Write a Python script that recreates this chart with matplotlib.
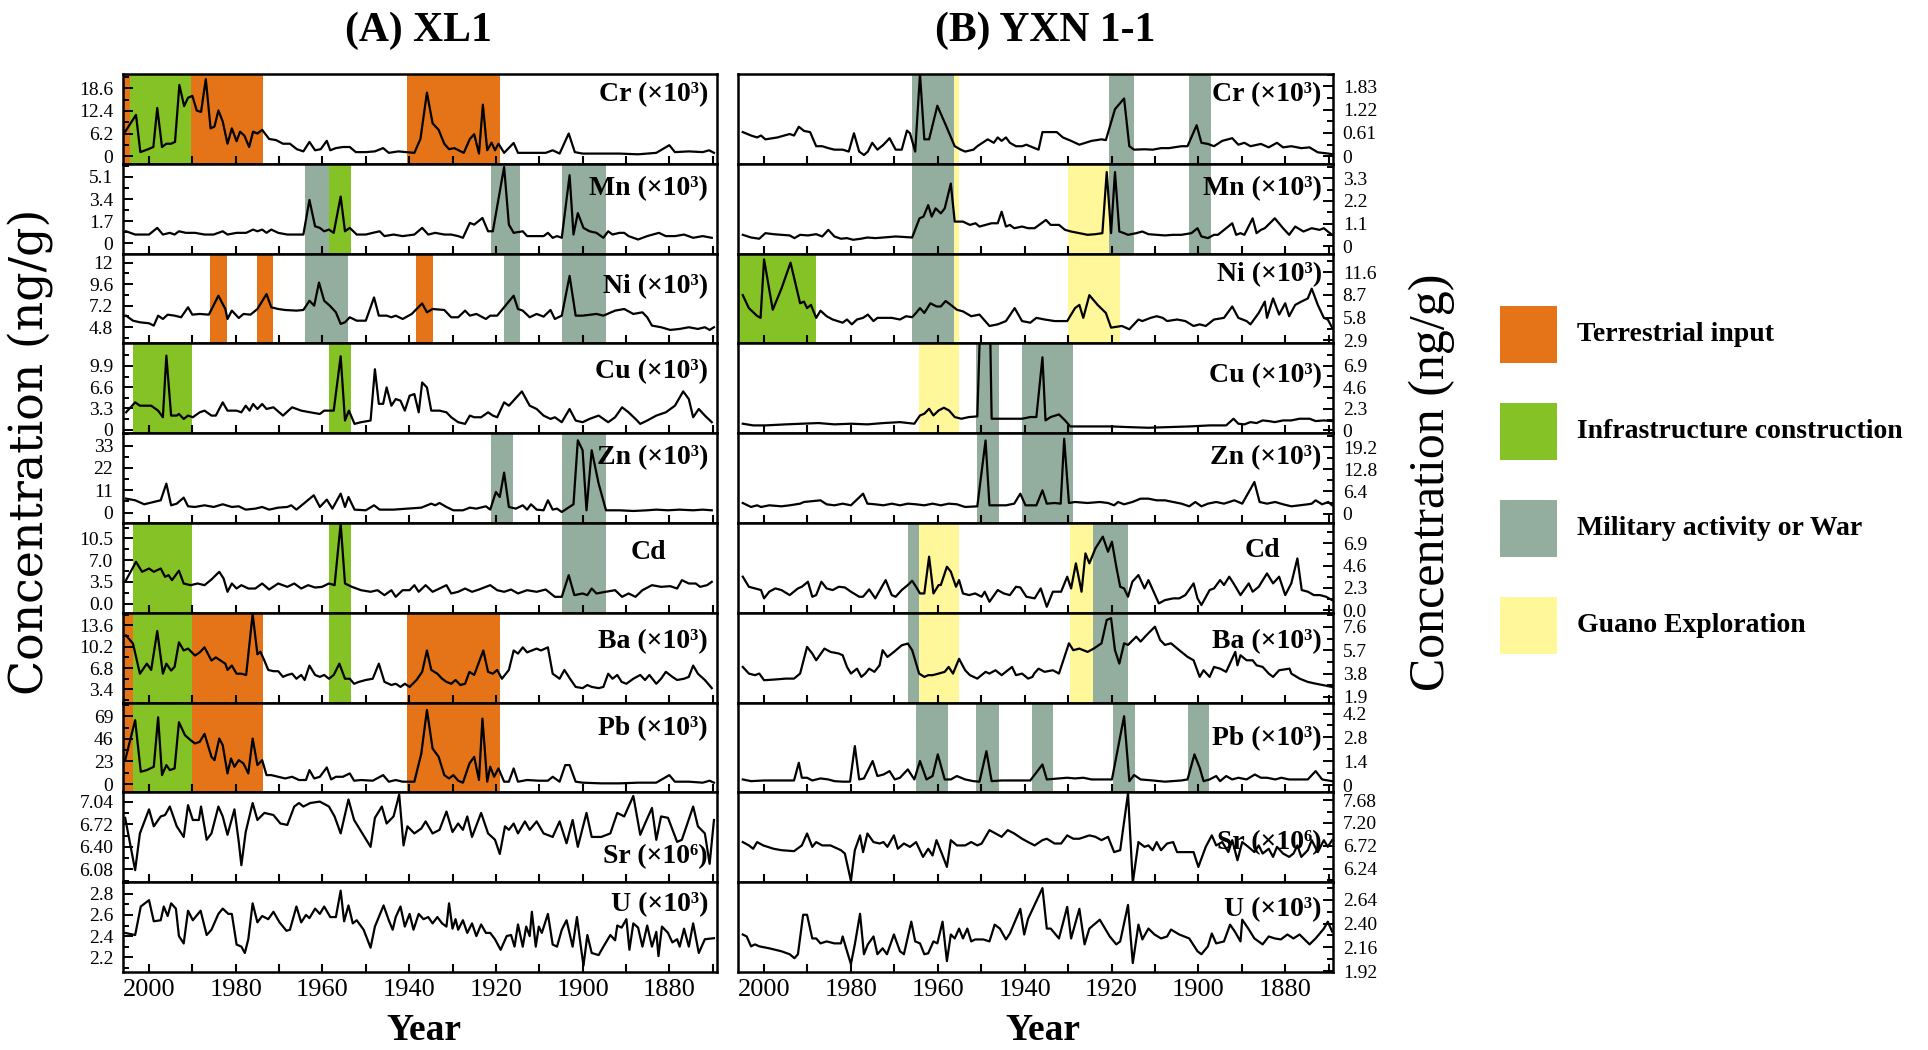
import numpy as np
import matplotlib
matplotlib.use("Agg")
import matplotlib.pyplot as plt
from matplotlib.patches import Rectangle
from matplotlib.ticker import FixedLocator

plt.rcParams['font.family'] = ['Liberation Serif', 'DejaVu Serif']

# shading colours
C_TER = '#e57418'   # terrestrial input
C_INF = '#84c225'   # infrastructure construction
C_MIL = '#93ad9e'   # military activity or war
C_GUA = '#fff799'   # guano exploration

# ---------------- (A) XL1 : (year, value) ----------------
xl1_cr = [(2005.5,6.7),(2003,11.3),(2002,1.1),(2000.2,1.9),(1999,2.5),(1998.1,13.2),(1997,2.5),(1996,3.4),(1994.9,3.4),(1994,3.9),
          (1993,19.5),(1991.9,13.7),(1991,16.0),(1990,16.5),(1989,12.5),(1988,12.1),(1986.9,21.1),(1985.8,7.6),(1984.9,8.1),(1984,12.5),
          (1983,9.5),(1981.9,3.4),(1980.9,7.6),(1979.8,4.1),(1979,6.7),(1978,5.6),(1976.9,2.5),(1976,6.7),(1975,6.2),(1973.9,7.2),
          (1972.3,4.7),(1970.7,4.4),(1969.1,3.4),(1967.5,3.4),(1965.9,1.9),(1964.4,1.3),(1963,3.9),(1961.7,1.6),(1960.4,1.9),(1959,4.2),
          (1958.2,1.6),(1956.9,2.2),(1955.3,2.5),(1953.7,2.5),(1952.3,1.1),(1950,1.1),(1947.9,1.3),(1946,2.2),(1944.7,0.9),(1942.5,1.3),
          (1938.8,0.9),(1937.4,4.7),(1935.9,17.4),(1934.6,9.0),(1933.2,7.2),(1931.9,3.4),(1930.8,1.9),(1929.6,2.2),(1927.4,0.9),(1926,4.7),
          (1925,6.0),(1923.9,0.7),(1923,14.1),(1922,1.6),(1921,3.7),(1920.2,1.6),(1919.4,3.4),(1918.1,0.9),(1915.9,3.6),(1914.9,0.9),
          (1911.7,0.9),(1908.5,0.9),(1906.9,1.6),(1905.3,0.7),(1903.2,6.2),(1901.8,1.1),(1900,0.7),(1895.7,0.7),(1891.5,0.7),(1887.2,0.5),
          (1883,0.9),(1880,3.0),(1878.7,1.1),(1875.5,1.3),(1872.3,1.1),(1870.8,1.6),(1869.7,0.9)]
xl1_mn = [(2005.3,0.93),(2003.2,0.68),(2000,0.68),(1998.1,1.19),(1996.8,0.68),(1995.2,0.81),(1994.1,0.68),(1993.1,0.93),(1991.5,0.81),(1989.4,0.81),
          (1987.2,0.68),(1985.1,0.68),(1983,0.93),(1981.9,0.68),(1979.8,0.81),(1977.6,0.81),(1976,1.06),(1975,0.93),(1973.9,1.06),(1972.9,0.81),
          (1971.8,1.06),(1970.2,0.81),(1968.1,0.68),(1964.4,0.68),(1963,3.33),(1961.7,1.31),(1960.6,1.19),(1959.6,0.93),(1958.5,1.06),(1957.4,0.81),
          (1955.8,3.59),(1954.8,0.93),(1953.7,1.19),(1952.1,0.68),(1950,0.68),(1948.4,0.81),(1946.8,0.93),(1945.7,0.56),(1943.6,0.68),(1941.5,0.56),
          (1938.8,0.68),(1937,1.19),(1935.6,0.68),(1934,0.81),(1931.9,0.68),(1930.3,0.68),(1928.7,0.56),(1927.6,0.43),(1926,1.57),(1925,1.44),
          (1923.1,1.95),(1921.8,0.93),(1920.7,0.93),(1918.1,5.86),(1917,1.44),(1915.9,0.81),(1913.8,0.93),(1912.8,0.56),(1910.6,0.56),(1909,0.56),
          (1908,0.81),(1906.9,0.43),(1905.9,0.56),(1904.8,0.43),(1903,5.23),(1902.1,0.68),(1901.1,2.32),(1899.8,1.19),(1898.4,0.93),(1896.8,0.81),
          (1895.2,0.43),(1894.1,0.93),(1893.1,0.68),(1891.5,0.81),(1890.4,0.81),(1889.4,0.56),(1887.2,0.30),(1885.1,0.56),(1882.4,0.81),(1880.8,0.56),
          (1878.7,0.56),(1876.6,0.68),(1874.5,0.43),(1872.3,0.56),(1870.2,0.43)]
xl1_ni = [(2005.3,6.09),(2003.7,5.53),(2002.1,5.35),(2000,5.24),(1998.9,4.98),(1997.9,6.09),(1996.8,5.72),(1995.7,6.20),(1994.1,6.09),(1992.6,5.91),
          (1991,7.02),(1990,6.20),(1988.3,6.28),(1986.2,6.20),(1984,8.31),(1982.4,6.83),(1981.9,5.72),(1980.9,6.65),(1979.3,5.83),(1978.2,6.28),
          (1976.6,6.20),(1975,6.83),(1972.9,8.49),(1971.8,7.02),(1970.2,6.83),(1968.6,6.72),(1966,6.65),(1964.4,6.72),(1963,7.75),(1961.9,7.20),
          (1960.8,9.78),(1959.6,7.75),(1958.3,7.20),(1956.9,6.46),(1955.8,5.17),(1954.8,5.35),(1953.7,5.91),(1952.1,5.53),(1950,5.53),(1948.1,8.12),
          (1947,6.09),(1945.2,6.09),(1944.1,5.91),(1943.1,6.09),(1941.5,5.72),(1939.4,6.28),(1937,7.46),(1935.9,6.46),(1934.6,6.83),(1931.9,6.72),
          (1930.3,5.91),(1928.7,5.91),(1927.1,6.65),(1926,6.09),(1924.5,6.28),(1922.3,5.72),(1921.3,6.09),(1919.7,6.09),(1915.9,8.31),(1914.9,6.83),
          (1913.8,6.65),(1912.2,5.91),(1910.6,6.28),(1909,5.98),(1907.4,6.72),(1906.4,5.72),(1904.8,6.09),(1903,10.52),(1901.6,6.09),(1900,6.09),
          (1896.8,6.28),(1895.2,6.09),(1892.5,6.65),(1890.4,6.83),(1888.3,6.28),(1886.2,6.46),(1885.1,5.91),(1884,4.98),(1881.9,4.80),(1879.8,4.50),
          (1877.6,4.61),(1875.5,4.80),(1873.4,4.61),(1871.8,4.80),(1870.7,4.50),(1869.7,4.80)]
xl1_cu = [(2005.3,2.68),(2003.2,4.23),(2002.1,3.71),(2000.5,3.71),(1999.5,3.71),(1997.9,2.94),(1996.8,1.91),(1996,11.5),(1994.9,2.17),(1993.6,2.17),
          (1993.1,2.42),(1992,1.65),(1991,2.17),(1989.9,1.91),(1988.3,2.68),(1987.2,2.94),(1985.6,2.17),(1984.6,2.17),(1983,4.23),(1981.9,2.94),
          (1979.8,2.94),(1978.7,2.68),(1977.7,3.71),(1976.8,2.94),(1976,3.97),(1975,3.20),(1973.9,3.97),(1972.9,3.20),(1971.3,3.46),(1969.1,2.17),
          (1967,3.46),(1964.9,2.94),(1962.8,2.68),(1960.6,2.42),(1959.6,2.94),(1957.4,2.94),(1955.8,11.4),(1954.8,1.40),(1953.9,2.94),(1952.6,0.88),
          (1951.1,1.14),(1948.9,1.40),(1947.9,9.38),(1947,4.0),(1946,4.0),(1945.2,6.55),(1944.1,3.71),(1943.1,4.74),(1942,4.49),(1941,2.94),
          (1939.9,5.26),(1938.8,5.52),(1937.8,2.68),(1937,7.32),(1935.9,6.55),(1934.9,2.94),(1933,2.94),(1931.4,2.68),(1930.3,1.91),(1928.7,1.14),
          (1927.1,0.88),(1926,2.17),(1925,1.91),(1923.4,1.91),(1921.8,2.68),(1920.7,2.17),(1919.7,1.91),(1918.1,4.23),(1917,3.71),(1914,5.93),
          (1912.2,3.71),(1910.6,3.20),(1909,2.17),(1907.4,1.65),(1906.4,1.91),(1904.8,1.14),(1903,3.20),(1901.6,1.40),(1900,1.14),(1898.4,1.65),
          (1896.3,2.17),(1894.1,1.14),(1892.5,1.91),(1890.9,3.46),(1889.4,2.68),(1887.8,1.65),(1886.7,0.88),(1885.1,1.40),(1883,2.17),(1880.8,2.68),
          (1878.7,3.71),(1876.8,5.93),(1875.5,4.74),(1874.5,1.91),(1873.2,3.20),(1871.8,2.17),(1870.2,1.14)]
xl1_zn = [(2005.3,6.90),(2003.2,6.08),(2001.1,4.11),(1998.9,5.26),(1997.3,6.08),(1996,14.29),(1994.9,3.61),(1993.6,4.43),(1992,7.39),(1991,3.12),
          (1989.4,2.79),(1987.2,3.61),(1985.1,2.79),(1983,4.11),(1980.9,2.79),(1979.3,3.12),(1977.7,1.48),(1975.5,1.97),(1973.9,2.79),(1972.3,1.48),
          (1970.2,2.46),(1968.1,2.79),(1967.2,3.61),(1966,1.48),(1962,8.54),(1960.6,2.79),(1959,6.40),(1957.7,1.97),(1955.8,9.36),(1954.8,2.79),
          (1954,7.72),(1952.6,1.48),(1950,1.15),(1948.1,3.61),(1946.8,1.48),(1943.6,1.48),(1940.4,1.97),(1937.2,2.46),(1934.9,4.43),(1934,3.61),
          (1933,4.76),(1931.4,2.79),(1929.8,1.15),(1927.6,1.15),(1926,2.46),(1924.5,1.97),(1922.3,3.12),(1921.3,1.48),(1920,10.18),(1919.1,7.72),
          (1918.1,19.7),(1917,2.79),(1915.4,1.97),(1913.8,3.61),(1912.8,1.48),(1911.9,4.11),(1910.6,1.48),(1909,1.15),(1908,6.08),(1906.9,1.48),
          (1905.9,1.97),(1904.8,0.33),(1902.1,4.11),(1901.1,35.6),(1900,30.7),(1899.1,1.15),(1897.9,30.7),(1896.3,14.3),(1894.6,1.15),(1891.5,1.15),
          (1888.3,0.82),(1885.1,1.15),(1883,1.48),(1880.3,1.15),(1877.7,1.48),(1874.5,1.15),(1872.3,1.48),(1870.2,1.15)]
xl1_cd = [(2005.3,3.77),(2003,6.73),(2001.6,5.12),(2000,5.65),(1998.9,5.12),(1997.3,5.65),(1996.3,4.31),(1995.5,4.58),(1994.7,3.77),(1993.1,5.30),
          (1992,3.23),(1990.4,2.96),(1988.8,3.23),(1987.2,2.96),(1985.6,3.88),(1983.8,5.12),(1982.8,4.04),(1981.9,1.89),(1980.9,3.23),(1979.8,2.42),
          (1978.7,2.96),(1977.1,2.42),(1975.5,2.42),(1973.9,3.23),(1972.3,2.26),(1970.2,3.23),(1968.1,2.69),(1966.5,3.23),(1964.9,2.42),(1963.3,2.96),
          (1961.7,2.58),(1960.1,2.69),(1958.5,3.23),(1957.2,2.96),(1955.8,12.9),(1954.8,3.23),(1953.2,2.69),(1951.1,2.15),(1948.9,1.89),(1947.3,2.15),
          (1945.7,1.35),(1944.1,2.15),(1943.1,1.08),(1941.5,2.15),(1939.9,2.15),(1938.8,2.96),(1937.8,1.89),(1936.2,2.96),(1934.6,1.89),(1933,2.42),
          (1931.4,2.96),(1930.3,1.62),(1928.7,1.89),(1927.1,2.42),(1925.5,1.89),(1923.9,2.26),(1921.3,2.96),(1919.7,2.15),(1918.1,1.89),(1916.5,2.26),
          (1914.9,1.62),(1912.8,2.15),(1910.6,1.89),(1908.5,2.26),(1906.4,1.08),(1904.8,1.08),(1903.2,4.58),(1901.9,1.35),(1900,1.62),(1898.9,1.35),
          (1897.9,2.42),(1896.8,1.62),(1894.7,1.89),(1892.5,2.15),(1890.9,1.08),(1889.4,1.62),(1887.8,1.08),(1886.2,2.15),(1884,2.96),(1881.9,2.69),
          (1879.8,2.80),(1878.2,2.42),(1877.1,3.77),(1875.5,3.23),(1873.9,3.23),(1872.9,2.69),(1871.3,2.96),(1870.2,3.50)]
xl1_ba = [(2005.3,12.0),(2003.7,10.7),(2002.1,5.9),(2000.5,7.5),(1999.5,6.5),(1998.1,12.7),(1996.8,5.9),(1996,7.5),(1994.9,6.4),(1994.1,7.0),
          (1993.1,10.9),(1992,9.6),(1991,9.9),(1989.4,8.8),(1988.3,9.3),(1987.2,10.1),(1985.6,8.0),(1984.6,8.5),(1983.5,8.0),(1982.4,7.5),
          (1981.9,6.5),(1980.9,7.2),(1979.8,5.9),(1978.7,5.9),(1977.6,5.7),(1976.1,15.4),(1975,9.0),(1974.3,9.4),(1973.4,8.0),(1972.5,6.5),
          (1971.3,6.3),(1970.2,6.3),(1969.1,5.4),(1968.1,5.7),(1967,5.9),(1966,5.1),(1964.9,5.7),(1964.1,4.9),(1963,7.2),(1961.7,5.7),
          (1960.6,5.4),(1959.6,5.7),(1958.5,5.1),(1957.4,5.7),(1956.1,7.5),(1954.8,5.1),(1953.7,5.1),(1952.7,4.3),(1951.6,4.6),(1950,4.9),
          (1948.4,5.1),(1947,7.5),(1945.7,4.6),(1944.1,4.1),(1943.1,4.3),(1942,3.8),(1941,4.3),(1939.9,3.8),(1938.3,4.9),(1937,6.2),
          (1935.9,9.6),(1934.9,6.5),(1933.5,5.9),(1932.4,5.1),(1931.4,4.6),(1930.3,4.3),(1929.3,4.9),(1928.2,4.1),(1927.1,4.3),(1926.1,6.2),
          (1925,5.7),(1922.9,9.6),(1921.8,6.2),(1920.7,5.9),(1919.7,6.5),(1918.6,5.1),(1917,6.5),(1915.9,9.6),(1914.9,9.1),(1913.8,10.1),
          (1912.8,9.3),(1911.7,9.6),(1910.6,9.9),(1909.6,9.6),(1908,10.1),(1906.9,5.9),(1905.3,5.1),(1904.2,6.5),(1902.9,5.1),(1901.6,3.8),
          (1900,3.6),(1898.9,4.1),(1897.9,3.8),(1896.3,3.6),(1895.2,3.8),(1894.1,5.9),(1893.1,5.1),(1892,5.7),(1891,4.6),(1889.9,4.3),
          (1888.3,5.1),(1886.7,5.7),(1885.6,4.9),(1884.6,5.7),(1883,4.3),(1881.9,5.1),(1880.8,6.2),(1879.3,5.4),(1878.2,4.9),(1876.6,5.1),
          (1875.5,5.4),(1874.5,7.2),(1873.4,5.9),(1871.8,4.9),(1870.2,3.6)]
xl1_pb = [(2005.5,24.3),(2003.2,65.0),(2001.9,12.5),(2000.5,14.2),(1998.9,17.6),(1997.9,68.0),(1997,9.1),(1996,19.3),(1995.2,14.2),(1994.1,15.9),
          (1993.1,63.0),(1991.7,49.7),(1990.4,44.6),(1989.4,41.3),(1988.3,43.0),(1987.2,51.1),(1985.6,27.7),(1984.9,24.3),(1983.8,46.3),(1983,39.6),
          (1981.9,10.8),(1981.1,26.0),(1980.3,17.6),(1979.3,24.3),(1978.2,20.9),(1977.1,10.8),(1976.1,46.3),(1975,19.3),(1973.9,24.3),(1972.9,9.1),
          (1971.8,9.1),(1970.2,7.4),(1968.6,5.7),(1967,7.4),(1965.4,4.1),(1963.8,4.1),(1963,14.2),(1961.9,5.7),(1960.6,7.4),(1959,16.9),
          (1958,4.7),(1956.9,7.4),(1955.3,7.4),(1953.7,10.8),(1952.7,3.4),(1951.1,4.1),(1948.4,3.4),(1946,9.1),(1944.7,2.4),(1943.1,4.1),
          (1941.5,2.4),(1938.8,2.4),(1937.2,31.1),(1935.9,75.4),(1934.6,36.2),(1933.2,27.7),(1931.9,9.1),(1930.8,5.7),(1929.8,9.1),(1928.7,3.4),
          (1927.6,1.4),(1926.1,20.9),(1925,27.7),(1923.9,4.1),(1923.1,66.6),(1922,2.4),(1921.3,17.6),(1920.4,7.4),(1919.4,15.9),(1918.1,2.4),
          (1917,2.4),(1915.9,15.9),(1914.9,2.4),(1912.8,4.1),(1910.1,3.4),(1908,3.4),(1906.9,7.4),(1905.3,2.4),(1904,19.3),(1903,19.3),
          (1901.6,2.4),(1900,1.4),(1895.7,0.7),(1891.5,0.7),(1887.2,1.4),(1883,1.4),(1880,9.1),(1878.7,2.4),(1875.5,2.4),(1872.3,1.4),
          (1870.7,3.4),(1869.7,1.4)]
xl1_sr = [(2005.5,6.81),(2003.2,6.07),(2002.1,6.59),(2000,6.93),(1998.9,6.69),(1997.3,6.83),(1996.3,6.85),(1995.2,6.97),(1993.6,6.69),(1992,6.54),
          (1991,6.99),(1989.9,6.78),(1988.5,6.78),(1988,6.97),(1986.7,6.50),(1985.6,6.59),(1984,6.97),(1983,6.83),(1981.9,6.57),(1980.3,6.93),
          (1979.3,6.47),(1978.7,6.14),(1977.7,6.61),(1976.1,7.02),(1975,6.78),(1973.4,6.88),(1971.3,6.85),(1969.7,6.73),(1968.1,6.71),(1966.5,6.97),
          (1965.4,7.02),(1964.4,6.97),(1962.8,7.02),(1960.6,7.04),(1958.5,6.97),(1957.2,6.83),(1955.8,6.59),(1954,7.07),(1952.7,6.78),(1950.8,6.59),
          (1948.9,6.40),(1947.9,6.81),(1946.3,6.97),(1945.2,6.73),(1943.6,6.83),(1942.3,7.14),(1941.3,6.42),(1940.4,6.69),(1938.8,6.59),(1937.2,6.66),
          (1936.2,6.76),(1934.6,6.59),(1933,6.64),(1931.4,6.90),(1930,6.61),(1928.7,6.73),(1927.6,6.64),(1926.6,6.83),(1925.5,6.54),(1923.4,6.88),
          (1921.8,6.59),(1920.2,6.50),(1919.1,6.30),(1917.9,6.69),(1917,6.64),(1915.9,6.73),(1914.9,6.59),(1913.3,6.76),(1912.2,6.64),(1910.6,6.76),
          (1909,6.59),(1906.9,6.54),(1905.3,6.76),(1903.7,6.45),(1902.3,6.78),(1901.1,6.40),(1899.1,6.88),(1897.9,6.54),(1895.7,6.54),(1893.6,6.59),
          (1892,6.88),(1890.4,6.83),(1888.3,7.12),(1886.7,6.57),(1885.6,6.73),(1884,6.95),(1883,6.50),(1881.9,6.83),(1880.3,6.81),(1878.2,6.47),
          (1877.1,6.50),(1874.5,6.97),(1873.4,6.69),(1871.8,6.59),(1870.7,6.16),(1869.7,6.78)]
xl1_u = [(2005.5,2.43),(2003.2,2.41),(2001.9,2.68),(2000,2.74),(1998.9,2.54),(1997.3,2.55),(1996.6,2.68),(1995.7,2.59),(1994.9,2.71),(1993.8,2.66),
         (1993.1,2.40),(1992,2.33),(1991,2.64),(1989.9,2.55),(1988.1,2.64),(1986.7,2.41),(1985.6,2.46),(1984,2.61),(1983,2.66),(1981.7,2.61),
         (1980.9,2.61),(1979.8,2.32),(1978.7,2.30),(1977.9,2.24),(1977.1,2.37),(1976.1,2.71),(1975,2.53),(1973.9,2.59),(1972.5,2.56),(1971.3,2.63),
         (1969.9,2.53),(1968.3,2.45),(1967.5,2.46),(1966,2.68),(1964.9,2.53),(1963.8,2.60),(1963,2.57),(1961.7,2.66),(1960.6,2.61),(1959.6,2.68),
         (1958.2,2.58),(1956.9,2.58),(1955.8,2.83),(1955,2.54),(1954,2.69),(1953,2.52),(1952.1,2.55),(1950.5,2.46),(1948.9,2.29),(1947.9,2.49),
         (1947,2.58),(1945.9,2.69),(1944.7,2.55),(1943.8,2.46),(1943.1,2.58),(1942,2.68),(1941,2.49),(1939.9,2.61),(1939,2.46),(1937.8,2.61),
         (1936.7,2.56),(1935.6,2.58),(1934.6,2.52),(1933.5,2.58),(1932.4,2.52),(1931.4,2.49),(1930.8,2.71),(1930,2.47),(1929.3,2.56),(1928.7,2.46),
         (1927.6,2.55),(1926.6,2.43),(1925.5,2.52),(1924.5,2.40),(1923.4,2.51),(1922.3,2.43),(1921.3,2.43),(1920.2,2.37),(1918.9,2.27),(1917.5,2.40),
         (1916.5,2.41),(1915.7,2.30),(1914.9,2.51),(1913.8,2.30),(1913,2.49),(1912.2,2.40),(1911.7,2.63),(1910.8,2.30),(1910.1,2.49),(1909.4,2.43),
         (1908,2.61),(1906.9,2.32),(1905.9,2.30),(1904.8,2.46),(1903.7,2.55),(1902.3,2.30),(1901.3,2.58),(1900.5,2.33),(1899.8,2.12),(1898.9,2.41),
         (1897.9,2.24),(1896.3,2.22),(1895.2,2.30),(1893.6,2.41),(1892.5,2.36),(1892,2.50),(1891,2.48),(1889.9,2.56),(1889.2,2.27),(1888.3,2.52),
         (1887.2,2.48),(1886.2,2.30),(1885.1,2.50),(1884,2.30),(1883,2.44),(1882.5,2.21),(1881.7,2.49),(1880.3,2.43),(1879.3,2.34),(1878.2,2.37),
         (1877.6,2.30),(1876.6,2.47),(1875.5,2.30),(1874.5,2.52),(1873.2,2.24),(1871.8,2.37),(1869.7,2.38)]

# ---------------- (B) YXN 1-1 : (year, value) ----------------
yxn_cr = [(2004.9,0.63),(2003,0.54),(2001.6,0.49),(2000.7,0.54),(1999.7,0.44),(1996.9,0.49),(1994.1,0.58),(1993.1,0.54),(1992,0.77),(1990.8,0.66),
          (1989.4,0.63),(1988,0.26),(1986.6,0.26),(1985.2,0.21),(1983.8,0.17),(1981.9,0.17),(1980.5,0.12),(1979.3,0.60),(1978.1,0.12),(1977,0.03),
          (1976.1,0.12),(1975.1,0.35),(1973.9,0.17),(1972.5,0.30),(1971.1,0.47),(1969.7,0.17),(1968.3,0.17),(1967.1,0.67),(1966.4,0.60),(1965.2,0.12),
          (1964.1,2.15),(1963.1,0.44),(1962,0.44),(1960.1,1.32),(1958,0.77),(1956.1,0.26),(1954.7,0.17),(1953.7,0.12),(1951.8,0.17),(1950.9,0.26),
          (1948.5,0.44),(1947.1,0.35),(1946.2,0.49),(1945.3,0.40),(1944.3,0.49),(1943.4,0.35),(1942,0.26),(1940.6,0.26),(1939.6,0.30),(1937.7,0.21),
          (1936.8,0.17),(1935.9,0.63),(1934.9,0.63),(1932.6,0.63),(1931.2,0.49),(1929.3,0.40),(1927.4,0.30),(1926,0.35),(1924.6,0.40),(1922.3,0.44),
          (1921.3,0.42),(1919.2,1.23),(1917.1,1.51),(1915.9,0.26),(1914.8,0.17),(1912.4,0.18),(1910.5,0.17),(1908.6,0.21),(1906.8,0.21),(1903.9,0.26),
          (1902.5,0.26),(1900.4,0.81),(1899.3,0.35),(1897.8,0.32),(1896.4,0.26),(1894.5,0.40),(1892.2,0.47),(1890.8,0.30),(1889.4,0.35),(1888,0.26),
          (1885.6,0.32),(1883.8,0.23),(1881.9,0.35),(1880.5,0.23),(1878.6,0.26),(1876.3,0.21),(1874.4,0.23),(1872.5,0.10),(1870.2,0.07),(1869.2,0.05)]
yxn_mn = [(2004.9,0.56),(2003,0.43),(2001.1,0.37),(1999.7,0.64),(1997.8,0.59),(1996,0.56),(1994.1,0.53),(1993,0.40),(1991.7,0.56),(1989.9,0.53),
          (1988,0.59),(1986.6,0.48),(1985.2,0.80),(1983.8,0.48),(1982.3,0.37),(1980.9,0.40),(1979.5,0.32),(1977.7,0.37),(1976.2,0.43),(1974.4,0.40),
          (1972.5,0.43),(1969.7,0.48),(1965.9,0.43),(1964.2,1.36),(1963.3,1.44),(1962.2,2.00),(1961.4,1.44),(1960.5,1.84),(1959.3,1.60),(1958.4,1.84),
          (1957,3.04),(1956.1,1.20),(1954.2,1.20),(1952.6,1.04),(1951.3,1.12),(1950.4,0.96),(1949,1.04),(1947.6,1.12),(1946.2,1.12),(1945.3,1.68),
          (1944.3,0.96),(1943.4,1.04),(1942.4,0.88),(1940.6,0.96),(1939.2,0.88),(1937.7,0.88),(1935.1,1.28),(1934,1.04),(1932.1,1.04),(1930.7,0.80),
          (1929.3,0.72),(1927.4,0.64),(1925.5,0.56),(1923.7,0.59),(1922.1,0.64),(1921.1,3.60),(1920.1,0.64),(1919.2,3.60),(1918.2,0.72),(1917.1,0.64),
          (1916.2,0.56),(1914.3,0.64),(1912.9,0.72),(1911.5,0.59),(1909.6,0.56),(1907.7,0.53),(1905.8,0.56),(1903.9,0.56),(1901.6,0.64),(1900.2,0.88),
          (1899.3,0.48),(1897.8,0.40),(1896.4,0.56),(1895.5,0.56),(1893.6,0.88),(1892.2,1.12),(1891.3,0.56),(1890.3,0.64),(1889.4,0.56),(1887.5,1.36),
          (1886.6,0.64),(1885.6,0.80),(1884.7,0.88),(1882.4,1.36),(1880.5,0.88),(1879.1,0.56),(1877.7,0.96),(1875.8,0.72),(1873.9,0.88),(1872.1,0.80),
          (1871.1,0.88),(1870.2,0.72),(1869.2,0.56)]
yxn_ni = [(2004.9,8.68),(2003.5,7.02),(2001.6,6.02),(2000.8,5.77),(2000,13.26),(1998,6.81),(1996,9.51),(1993.9,12.84),(1991.7,7.64),(1990.8,7.85),
          (1990.1,7.02),(1989.2,7.43),(1988,5.77),(1987,6.69),(1985.6,5.98),(1984.2,5.56),(1981.9,5.15),(1980.9,5.56),(1979.8,4.94),(1978.6,5.56),
          (1977.2,5.77),(1976.1,6.19),(1974.8,5.36),(1973.9,5.77),(1972.5,5.77),(1970.6,5.77),(1968.7,5.56),(1967.3,5.98),(1965.9,5.86),(1965,6.40),
          (1964.1,7.02),(1963.1,6.40),(1961.7,7.64),(1960.3,7.23),(1959.3,7.23),(1958.2,7.93),(1957,7.43),(1955.6,6.81),(1954.2,6.60),(1952.3,5.98),
          (1950.4,6.19),(1948.1,4.73),(1946.2,4.94),(1944.3,5.36),(1942.3,7.02),(1940.6,5.36),(1938.7,5.15),(1937.3,5.77),(1935.4,5.56),(1933.1,5.36),
          (1930.2,5.36),(1928.4,7.02),(1927.4,7.43),(1926.5,5.77),(1925.1,8.68),(1923.2,7.43),(1921.3,6.40),(1920.1,4.52),(1917.6,4.73),(1915.9,4.31),
          (1913.8,5.56),(1912.9,5.36),(1911,5.77),(1909.6,5.98),(1908.2,5.77),(1907.2,5.36),(1904.9,5.56),(1903,5.36),(1901.1,4.73),(1899.7,4.94),
          (1898.3,4.73),(1896.4,5.56),(1894.1,5.77),(1892.2,7.23),(1890.8,5.77),(1888.9,5.36),(1888,4.94),(1886.1,6.40),(1884.7,7.85),(1884.2,5.77),
          (1882.8,8.26),(1881.4,6.19),(1880,7.64),(1879.1,5.98),(1877.7,7.43),(1876.3,7.85),(1874.8,8.26),(1873.9,9.51),(1872.5,7.43),(1871.1,5.77),
          (1870.2,5.56),(1869.2,4.52)]
yxn_cu = [(2004.9,0.71),(2002.5,0.53),(1999.7,0.53),(1995,0.64),(1991.3,0.71),(1987.5,0.78),(1983.8,0.64),(1980,0.71),(1976.2,0.64),(1972.5,0.78),
          (1968.7,0.88),(1965.4,0.71),(1964.1,1.59),(1963.1,1.77),(1962,2.30),(1961,1.59),(1959.8,2.12),(1958.6,2.41),(1957.4,2.12),(1956.1,1.42),
          (1954.6,1.24),(1952.8,1.42),(1950.9,1.49),(1950,15.0),(1948.1,15.0),(1947.6,1.24),(1944.3,1.24),(1940.6,1.24),(1938.7,1.42),(1937.3,1.42),
          (1935.9,7.78),(1935.2,1.06),(1934,1.42),(1932.1,1.70),(1930.7,1.06),(1929.5,0.42),(1927.4,0.42),(1923.7,0.42),(1919.9,0.42),(1916.2,0.35),
          (1911.5,0.28),(1906.8,0.35),(1902.1,0.42),(1897.4,0.53),(1893.6,0.53),(1891.9,1.24),(1890.8,0.71),(1889.4,0.64),(1888,0.88),(1886.6,0.78),
          (1885.2,1.06),(1883.8,0.99),(1882.4,0.88),(1880.5,1.06),(1878.6,1.06),(1876.7,1.24),(1874.4,1.24),(1873,0.99),(1871.1,1.06),(1869.2,0.99)]
yxn_zn = [(2004.9,3.07),(2003,1.92),(2001.6,2.40),(2000.7,1.92),(1998.8,2.40),(1996,2.11),(1994.1,2.40),(1991.7,2.88),(1990.8,3.36),(1987,3.84),
          (1985.6,2.69),(1983.8,2.40),(1981.9,2.88),(1980,2.40),(1977.2,5.76),(1976.2,2.88),(1974.4,2.69),(1972.5,2.40),(1970.6,2.88),(1968.7,2.40),
          (1966.9,2.88),(1965,2.69),(1963.1,2.40),(1961.2,2.88),(1959.3,2.40),(1957.5,2.88),(1955.6,2.69),(1953.7,1.92),(1950.9,2.11),(1949,21.1),
          (1948.1,2.40),(1946.2,2.40),(1944.3,2.40),(1942.4,2.88),(1941,5.76),(1939.8,2.40),(1937.3,2.40),(1935.9,6.72),(1934.9,2.88),(1933.1,3.07),
          (1931.7,2.88),(1930.9,21.6),(1929.8,3.07),(1928.4,3.36),(1925.5,3.07),(1922.7,3.36),(1920.8,3.07),(1919.4,2.40),(1918.5,3.36),(1917.1,2.69),
          (1915.2,3.36),(1913.3,4.32),(1911.5,4.32),(1909.6,3.84),(1907.7,3.84),(1905.8,3.36),(1903.9,2.88),(1902.1,2.11),(1900.7,3.36),(1899.3,2.11),
          (1897.8,2.88),(1895.9,3.36),(1894.1,2.88),(1891.7,3.84),(1889.9,2.88),(1887.1,9.12),(1885.9,3.36),(1884.2,2.88),(1882.3,3.36),(1880.5,2.69),
          (1878.6,2.11),(1876.7,2.40),(1874.8,2.69),(1873.9,2.88),(1873,3.84),(1871.5,2.69),(1870.1,3.36),(1869.2,2.40)]
yxn_cd = [(2004.9,3.45),(2003.5,2.41),(2002.1,2.24),(2000.7,2.07),(2000,1.21),(1998.8,1.90),(1997.4,2.24),(1996,2.07),(1994.1,1.55),(1992.2,2.24),
          (1991.3,2.41),(1989.9,2.93),(1988.9,1.38),(1988,1.55),(1986.8,2.93),(1985.6,2.24),(1984.2,2.07),(1982.8,2.41),(1981.4,2.34),(1980,1.90),
          (1978.1,1.38),(1977.2,1.38),(1975.8,2.14),(1974.4,1.21),(1972,3.10),(1970.6,1.55),(1969.7,1.38),(1968.3,2.07),(1966.9,2.59),(1965.9,3.03),
          (1965,2.41),(1964.1,1.72),(1963.1,1.72),(1962,5.52),(1961,1.72),(1959.8,2.59),(1959.3,2.59),(1957.9,4.48),(1957,3.97),(1955.8,2.41),
          (1955.1,3.10),(1954.2,1.72),(1952.8,1.55),(1951.4,1.72),(1949.9,1.38),(1949.2,1.90),(1948.1,0.86),(1946.2,2.07),(1944.8,1.72),(1943.4,1.55),
          (1942,2.41),(1941,2.34),(1939.6,1.38),(1937.7,1.21),(1936.3,2.24),(1934.9,0.34),(1933.5,1.90),(1931.6,1.90),(1930.2,3.45),(1929.3,2.24),
          (1928.2,4.83),(1926.9,1.90),(1926,5.86),(1925.1,4.83),(1923.7,6.38),(1922,7.59),(1920.8,6.03),(1919.9,7.07),(1918.9,4.48),(1918,2.41),
          (1917.1,2.24),(1916.2,1.38),(1915.2,2.93),(1913.8,3.62),(1912.4,2.24),(1911.5,3.10),(1910.3,1.90),(1909.1,0.69),(1907.7,1.03),(1905.8,1.21),
          (1904.4,1.21),(1903,1.55),(1901.1,2.76),(1900.2,1.21),(1899.3,0.52),(1897.4,2.07),(1896.4,2.24),(1895,3.10),(1894.1,2.59),(1892.9,3.45),
          (1891.9,2.76),(1890.3,1.55),(1888.4,2.76),(1887.5,1.90),(1886.1,2.41),(1884.2,3.79),(1882.8,2.76),(1881.4,3.45),(1880,1.55),(1878.6,2.76),
          (1877.2,5.34),(1876.2,2.07),(1874.8,1.90),(1873.4,1.55),(1872,1.55),(1870.6,1.38),(1869.2,1.03)]
yxn_ba = [(2004.9,4.34),(2003.5,3.80),(2002.1,3.67),(2001.1,3.80),(2000,3.26),(1997.8,3.31),(1995,3.39),(1993.1,3.39),(1991.7,3.80),(1990.1,5.97),
          (1988.9,5.43),(1988,4.88),(1986.1,5.83),(1984.7,5.56),(1982.8,5.43),(1981.9,5.29),(1980.9,4.34),(1980,3.80),(1978.6,4.20),(1977.6,3.53),
          (1976.7,3.80),(1975.8,4.20),(1974.6,3.94),(1973.4,4.47),(1972.7,5.70),(1971.6,5.15),(1970.1,5.56),(1968.3,6.10),(1966.9,6.24),(1965.9,5.70),
          (1965.2,4.88),(1964.3,3.80),(1963.1,3.53),(1962.2,3.67),(1961.2,3.67),(1959.8,3.80),(1958.4,3.94),(1957.5,4.34),(1956.5,3.80),(1955.1,5.00),
          (1953.7,4.07),(1952.6,3.67),(1950.9,3.39),(1949,3.94),(1948.1,3.80),(1946.7,4.07),(1945.3,3.67),(1942.9,4.34),(1942,3.67),(1940.6,3.80),
          (1939.2,3.39),(1938.2,3.53),(1937.8,3.80),(1936.8,4.20),(1935.4,3.94),(1933.5,4.07),(1932.1,3.80),(1929.8,6.26),(1928.8,5.70),(1927.4,5.83),
          (1925.5,5.56),(1924.1,5.83),(1922.3,6.26),(1921.1,8.16),(1920.1,8.30),(1919.2,5.70),(1918.2,4.61),(1917.1,6.26),(1916.2,6.13),(1914.3,6.80),
          (1913.3,6.40),(1911.9,6.94),(1910,7.61),(1908.8,6.53),(1907.7,6.13),(1906.3,6.26),(1904.4,5.70),(1902.5,5.16),(1901.1,4.88),(1899.7,3.53),
          (1898.8,4.07),(1897.4,3.53),(1896.4,4.34),(1895,4.20),(1893.6,3.94),(1891.5,5.56),(1891,4.47),(1890.3,5.29),(1888.9,4.88),(1887.5,4.88),
          (1886.6,4.47),(1885.2,4.34),(1883.8,3.80),(1882.8,3.53),(1881.4,4.07),(1879,4.20),(1878.6,3.80),(1876.7,3.39),(1874.8,3.12),(1873,2.98),
          (1871.1,2.85),(1869.2,2.71)]
yxn_pb = [(2004.9,0.33),(2003,0.23),(2000,0.27),(1996,0.27),(1993.1,0.27),(1992,1.31),(1991.3,0.43),(1990.1,0.43),(1988.9,0.27),(1987,0.39),
          (1985.2,0.33),(1983.8,0.23),(1981.9,0.20),(1980.2,0.20),(1979.1,2.29),(1978.1,0.33),(1977,0.39),(1975,1.41),(1973.9,0.53),(1972.5,0.62),
          (1971.1,0.82),(1969.9,0.33),(1968.7,0.43),(1966.9,0.92),(1965.4,0.33),(1964.1,1.41),(1962.6,0.33),(1961.2,0.53),(1960,1.80),(1958.4,0.33),
          (1957,0.33),(1955.6,0.53),(1953.7,0.33),(1951.8,0.23),(1950.4,0.20),(1948.8,1.99),(1947.6,0.23),(1945.3,0.27),(1942.4,0.27),(1938.7,0.27),
          (1935.9,1.21),(1934.9,0.33),(1932.1,0.39),(1930.2,0.43),(1928.4,0.39),(1926.5,0.43),(1924.6,0.33),(1921.8,0.33),(1919.9,0.33),(1917.1,4.04),
          (1915.9,0.23),(1914.8,0.59),(1913.3,0.33),(1910.5,0.27),(1907.7,0.20),(1903.9,0.27),(1902.5,0.33),(1900.9,1.80),(1899.7,1.02),(1898.8,0.23),
          (1897.4,0.33),(1895.9,0.53),(1895,0.23),(1893.6,0.53),(1892.2,0.33),(1890.8,0.43),(1888.9,0.33),(1887,0.62),(1885.6,0.43),(1884.2,0.43),
          (1882.3,0.33),(1880.9,0.43),(1879.1,0.33),(1876.7,0.33),(1874.8,0.33),(1873,0.82),(1871.5,0.33),(1869.2,0.23)]
yxn_sr = [(2004.9,6.80),(2003.5,6.73),(2002.5,6.66),(2001.6,6.80),(2000.2,6.73),(1997.8,6.66),(1996,6.63),(1993.1,6.61),(1991.3,6.73),(1990.1,6.98),
          (1988.9,6.70),(1988,6.80),(1986.6,6.73),(1984.7,6.73),(1982.3,6.63),(1981.4,6.56),(1980,5.99),(1979.1,6.63),(1977.9,6.94),(1977.2,6.59),
          (1976.2,6.98),(1974.8,6.80),(1973.4,6.77),(1972.5,6.80),(1971.6,6.70),(1970.1,6.94),(1969.2,6.66),(1967.8,6.77),(1966.4,6.70),(1965,6.80),
          (1963.4,6.49),(1962.2,6.66),(1961.2,6.52),(1960.3,6.84),(1958.9,6.52),(1957.9,6.28),(1957,6.84),(1955.6,6.73),(1953.7,6.73),(1952.3,6.80),
          (1950.9,6.73),(1949.9,6.77),(1948.1,7.05),(1946.7,6.98),(1945.3,6.91),(1943.9,7.05),(1942.4,6.98),(1940.6,6.87),(1939.2,6.80),(1937.7,6.73),
          (1935.9,6.84),(1934.9,6.87),(1933.1,6.77),(1931.6,6.77),(1930.2,6.94),(1928.8,6.87),(1927.4,6.87),(1925.1,6.94),(1923.7,6.91),(1922.3,6.84),
          (1920.8,6.91),(1919.4,6.59),(1918,6.63),(1916.2,7.82),(1915.1,5.95),(1913.8,6.80),(1912.4,6.70),(1911.5,6.73),(1910.5,6.63),(1909.6,6.80),
          (1908.6,6.63),(1907.2,6.77),(1905.8,6.80),(1904.9,6.59),(1903,6.59),(1901.1,6.59),(1900,6.28),(1898.3,6.70),(1896.9,6.94),(1895.9,6.73),
          (1894.5,6.80),(1893.1,6.59),(1892.2,6.84),(1891,6.42),(1889.9,6.80),(1888.5,6.70),(1887.1,6.59),(1886.1,6.73),(1885.2,6.56),(1883.8,6.66),
          (1882.8,6.49),(1881.9,6.70),(1880.5,6.56),(1879.1,6.49),(1878.1,6.56),(1877.2,6.73),(1876.3,6.49),(1874.8,6.63),(1873.9,6.84),(1872.5,6.59),
          (1871.1,6.84),(1870.2,6.70),(1869.2,6.84)]
yxn_u = [(2004.9,2.29),(2004,2.27),(2003,2.17),(2002.1,2.19),(2001.1,2.17),(1998.8,2.15),(1996,2.12),(1994.1,2.09),(1993,2.05),(1992.2,2.09),
         (1991,2.49),(1990.1,2.49),(1988.9,2.25),(1988,2.25),(1987,2.20),(1985.6,2.22),(1983.8,2.20),(1982.3,2.20),(1981.9,2.27),(1980.9,2.12),
         (1980,1.99),(1979.1,2.19),(1977.9,2.50),(1977,2.09),(1976.1,2.19),(1974.8,2.27),(1973.9,2.09),(1972.7,2.15),(1971.7,2.09),(1970.1,2.29),
         (1968.7,2.12),(1967.8,2.09),(1966.1,2.42),(1965.2,2.22),(1964.1,2.20),(1963.1,2.09),(1962.2,2.10),(1961,2.22),(1960.1,2.20),(1958.9,2.42),
         (1957.9,2.02),(1957,2.29),(1956.1,2.25),(1955.1,2.35),(1954.2,2.25),(1953.2,2.35),(1952.3,2.22),(1951.4,2.24),(1949.5,2.24),(1948.1,2.22),
         (1946.9,2.39),(1945.7,2.35),(1944.3,2.24),(1943.4,2.30),(1941,2.55),(1940.1,2.29),(1939.2,2.45),(1935.9,2.76),(1934.9,2.35),(1934,2.35),
         (1932.1,2.25),(1930.2,2.57),(1929.3,2.25),(1927.4,2.55),(1926.2,2.19),(1925.1,2.35),(1922.7,2.44),(1920.4,2.27),(1918.9,2.19),(1918,2.22),
         (1916.2,2.59),(1915.1,2.00),(1913.8,2.39),(1912.9,2.24),(1911.5,2.35),(1910.1,2.29),(1908.6,2.25),(1907.2,2.27),(1906.3,2.34),(1904.4,2.29),
         (1902.1,2.25),(1900.2,2.12),(1899.3,2.09),(1897.8,2.17),(1896.9,2.30),(1895.9,2.20),(1894.1,2.22),(1892.7,2.39),(1891.6,2.32),(1890.3,2.22),
         (1889.9,2.44),(1888.5,2.35),(1887.1,2.25),(1885.2,2.19),(1883.8,2.27),(1882.4,2.25),(1881,2.24),(1879.5,2.29),(1878.1,2.25),(1876.7,2.29),
         (1874.4,2.19),(1873,2.25),(1871.1,2.35),(1870.2,2.42),(1869.2,2.32)]

# ---------------- event periods (start year, end year, kind) ----------------
xl1_spans = [
    [(2006, 2004.3, 'T'), (2004.3, 1990.4, 'G'), (1990.4, 1973.6, 'T'), (1940.4, 1919.1, 'T')],
    [(1964.1, 1958.5, 'M'), (1958.5, 1953.5, 'G'), (1921.1, 1914.4, 'M'), (1904.8, 1894.7, 'M')],
    [(1985.9, 1982.1, 'T'), (1975.2, 1971.3, 'T'), (1964.1, 1954.0, 'M'), (1938.5, 1934.6, 'T'),
     (1918.1, 1914.4, 'M'), (1904.8, 1894.7, 'M')],
    [(2003.7, 1990.2, 'G'), (1958.5, 1953.5, 'G')],
    [(1921.1, 1916.0, 'M'), (1904.8, 1894.7, 'M')],
    [(2003.7, 1990.2, 'G'), (1958.5, 1953.5, 'G'), (1904.8, 1894.7, 'M')],
    [(2006, 2003.7, 'T'), (2003.7, 1990.2, 'G'), (1990.2, 1973.6, 'T'), (1958.5, 1953.5, 'G'), (1940.4, 1919.1, 'T')],
    [(2006, 2003.7, 'T'), (2003.7, 1990.2, 'G'), (1990.2, 1973.6, 'T'), (1940.4, 1919.1, 'T')],
    [],
    [],
]
yxn_spans = [
    [(1966.0, 1956.3, 'M'), (1956.3, 1955.1, 'Y'), (1920.6, 1914.9, 'M'), (1902.1, 1897.1, 'M')],
    [(1966.0, 1956.3, 'M'), (1956.3, 1955.1, 'Y'), (1930.0, 1920.6, 'Y'), (1920.6, 1914.9, 'M'), (1902.1, 1897.1, 'M')],
    [(2006, 1988.0, 'G'), (1966.0, 1956.3, 'M'), (1956.3, 1955.1, 'Y'), (1930.0, 1918.0, 'Y')],
    [(1964.3, 1955.1, 'Y'), (1951.1, 1945.9, 'M'), (1940.6, 1928.8, 'M')],
    [(1950.9, 1945.9, 'M'), (1940.6, 1928.8, 'M')],
    [(1966.9, 1964.3, 'M'), (1964.3, 1955.1, 'Y'), (1929.5, 1924.3, 'Y'), (1924.3, 1916.2, 'M')],
    [(1966.9, 1964.3, 'M'), (1964.3, 1955.1, 'Y'), (1929.5, 1924.3, 'Y'), (1924.3, 1916.2, 'M')],
    [(1965.0, 1957.7, 'M'), (1951.1, 1946.0, 'M'), (1938.4, 1933.4, 'M'), (1919.7, 1914.7, 'M'), (1902.5, 1897.6, 'M')],
    [],
    [],
]
span_colors = {'T': C_TER, 'G': C_INF, 'M': C_MIL, 'Y': C_GUA}

xl1_series = [xl1_cr, xl1_mn, xl1_ni, xl1_cu, xl1_zn, xl1_cd, xl1_ba, xl1_pb, xl1_sr, xl1_u]
yxn_series = [yxn_cr, yxn_mn, yxn_ni, yxn_cu, yxn_zn, yxn_cd, yxn_ba, yxn_pb, yxn_sr, yxn_u]

panel_labels = ['Cr (×10³)', 'Mn (×10³)', 'Ni (×10³)', 'Cu (×10³)', 'Zn (×10³)', 'Cd',
                'Ba (×10³)', 'Pb (×10³)', 'Sr (×10⁶)', 'U (×10³)']

xl1_ylim = [(-2.1, 22.5), (-0.78, 6.1), (3.0, 13.0), (-0.57, 13.4), (-5.1, 39.1), (-1.5, 13.0),
            (1.3, 15.6), (-8.5, 82.9), (5.90, 7.17), (2.06, 2.91)]
xl1_ticks = [['0', '6.2', '12.4', '18.6'], ['0', '1.7', '3.4', '5.1'], ['4.8', '7.2', '9.6', '12'],
             ['0', '3.3', '6.6', '9.9'], ['0', '11', '22', '33'], ['0.0', '3.5', '7.0', '10.5'],
             ['3.4', '6.8', '10.2', '13.6'], ['0', '23', '46', '69'], ['6.08', '6.40', '6.72', '7.04'],
             ['2.2', '2.4', '2.6', '2.8']]
yxn_ylim = [(-0.2, 2.15), (-0.35, 4.0), (2.5, 14.0), (-0.3, 9.26), (-2.7, 23.2), (-0.28, 9.0),
            (1.44, 8.74), (-0.43, 4.84), (5.96, 7.84), (1.91, 2.82)]
yxn_ticks = [['0', '0.61', '1.22', '1.83'], ['0', '1.1', '2.2', '3.3'], ['2.9', '5.8', '8.7', '11.6'],
             ['0', '2.3', '4.6', '6.9'], ['0', '6.4', '12.8', '19.2'], ['0.0', '2.3', '4.6', '6.9'],
             ['1.9', '3.8', '5.7', '7.6'], ['0', '1.4', '2.8', '4.2'], ['6.24', '6.72', '7.20', '7.68'],
             ['1.92', '2.16', '2.40', '2.64']]

# label placement inside each panel (axes fraction)
xl1_labpos = [(0.985, 0.77, 'right'), (0.985, 0.72, 'right'), (0.985, 0.63, 'right'), (0.985, 0.69, 'right'),
              (0.985, 0.73, 'right'), (0.884, 0.67, 'center'), (0.985, 0.68, 'right'), (0.985, 0.71, 'right'),
              (0.985, 0.28, 'right'), (0.985, 0.755, 'right')]
yxn_labpos = [(0.981, 0.77, 'right'), (0.981, 0.72, 'right'), (0.981, 0.77, 'right'), (0.981, 0.64, 'right'),
              (0.981, 0.73, 'right'), (0.882, 0.69, 'center'), (0.981, 0.68, 'right'), (0.981, 0.60, 'right'),
              (0.981, 0.44, 'right'), (0.981, 0.69, 'right')]

year_major = [2000, 1980, 1960, 1940, 1920, 1900, 1880]
year_minor = [1990, 1970, 1950, 1930, 1910, 1890, 1870]

W, H = 1928, 1050
fig = plt.figure(figsize=(W / 100, H / 100), dpi=100)

top_px, panel_px = 74, 89.8


def draw_column(x_px, w_px, series, spans, ylims, ticks, labpos, side):
    axes = []
    for i in range(10):
        y0 = 1 - (top_px + (i + 1) * panel_px) / H
        ax = fig.add_axes([x_px / W, y0, w_px / W, panel_px / H])
        for a, b, k in spans[i]:
            ax.axvspan(a, b, color=span_colors[k], lw=0, zorder=0)
        yr, val = zip(*series[i])
        ax.plot(yr, val, color='black', lw=1.6, zorder=3)
        ax.set_xlim(2006, 1869)
        ax.set_ylim(*ylims[i])
        tv = [float(t) for t in ticks[i]]
        step = tv[1] - tv[0]
        minor = [t - step / 2 for t in tv] + [tv[-1] + step / 2]
        minor = [m for m in minor if ylims[i][0] < m < ylims[i][1]]
        ax.yaxis.set_major_locator(FixedLocator(tv))
        ax.yaxis.set_minor_locator(FixedLocator(minor))
        ax.set_yticklabels(ticks[i])
        ax.xaxis.set_major_locator(FixedLocator(year_major))
        ax.xaxis.set_minor_locator(FixedLocator(year_minor))
        for s in ax.spines.values():
            s.set_linewidth(1.8)
        ax.tick_params(axis='x', which='both', direction='in', length=6, width=1.5,
                       top=False, bottom=True, labelbottom=(i == 9), labelsize=19, pad=5)
        if side == 'left':
            ax.tick_params(axis='y', which='both', direction='in', left=True, right=False,
                           labelleft=True, labelright=False, width=1.4, labelsize=14, pad=7)
        else:
            ax.tick_params(axis='y', which='both', direction='in', left=False, right=True,
                           labelleft=False, labelright=True, width=1.4, labelsize=14, pad=7)
        ax.tick_params(axis='y', which='major', length=7)
        ax.tick_params(axis='y', which='minor', length=4)
        lx, ly, ha = labpos[i]
        ax.text(lx, ly, panel_labels[i], transform=ax.transAxes, ha=ha, va='center',
                fontsize=20, fontweight='bold', zorder=5)
        axes.append(ax)
    return axes


draw_column(123, 594, xl1_series, xl1_spans, xl1_ylim, xl1_ticks, xl1_labpos, 'left')
draw_column(738, 595, yxn_series, yxn_spans, yxn_ylim, yxn_ticks, yxn_labpos, 'right')

# titles and axis names
fig.text(418 / W, 1 - 31 / H, '(A) XL1', ha='center', va='center', fontsize=30, fontweight='bold')
fig.text(1045 / W, 1 - 31 / H, '(B) YXN 1-1', ha='center', va='center', fontsize=30, fontweight='bold')
fig.text(424 / W, 1 - 1030 / H, 'Year', ha='center', va='center', fontsize=27, fontweight='bold')
fig.text(1043 / W, 1 - 1030 / H, 'Year', ha='center', va='center', fontsize=27, fontweight='bold')
fig.text(31 / W, 1 - 452 / H, 'Concentration (ng/g)', rotation=90, ha='center', va='center',
         fontsize=33, family=['DejaVu Serif'])
fig.text(1432 / W, 1 - 482 / H, 'Concentration (ng/g)', rotation=90, ha='center', va='center', fontsize=36)

# legend
legend_names = ['Terrestrial input', 'Infrastructure construction', 'Military activity or War', 'Guano Exploration']
legend_colors = [C_TER, C_INF, C_MIL, C_GUA]
legend_top = [306, 403, 500, 597]
for name, col, ty in zip(legend_names, legend_colors, legend_top):
    fig.add_artist(Rectangle((1500 / W, 1 - (ty + 57) / H), 57 / W, 57 / H,
                             transform=fig.transFigure, facecolor=col, edgecolor='none'))
    fig.text(1577 / W, 1 - (ty + 28.5) / H, name, ha='left', va='center', fontsize=20, fontweight='bold')

fig.savefig('out.png', dpi=100)
